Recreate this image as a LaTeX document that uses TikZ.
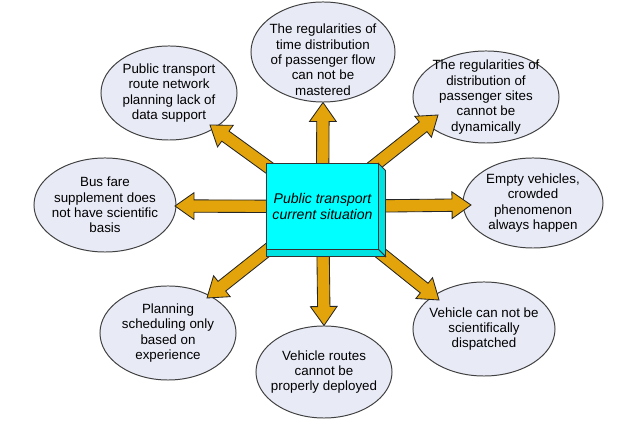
\documentclass[tikz,border=0pt]{standalone}
\usepackage{fontspec}
\setmainfont{Liberation Sans}
\usepackage{tikz}
\usetikzlibrary{shapes,positioning,calc,backgrounds}

\definecolor{bubblefill}{RGB}{232,234,246}
\definecolor{arrowgold}{RGB}{226,164,10}
\definecolor{hubcyan}{RGB}{0,255,255}
\definecolor{hubside}{RGB}{0,226,226}

% fat block arrow from #1 to #2
\newcommand{\bigarrow}[2]{%
  \coordinate (ba) at (#1);
  \coordinate (bb) at (#2);
  \coordinate (bc) at ($(bb)!13.5pt!(ba)$);
  \draw[fatarrow] ($(ba)!4.4pt!90:(bb)$) -- ($(bc)!4.4pt!-90:(ba)$)
    -- ($(bc)!9.5pt!-90:(ba)$) -- (bb) -- ($(bc)!9.5pt!90:(ba)$)
    -- ($(bc)!4.4pt!90:(ba)$) -- ($(ba)!4.4pt!-90:(bb)$) -- cycle;
}

\begin{document}
\begin{tikzpicture}[
    x=0.025cm, y=-0.025cm,
    bubble/.style={ellipse, draw=black!75, line width=0.7pt, fill=bubblefill, inner sep=-15pt, align=center, font=\fontsize{9.5}{10.9}\selectfont},
    hub/.style={rectangle, draw=black!80, line width=0.7pt, fill=hubcyan, minimum width=2.775cm, minimum height=2.125cm, align=center, font=\fontsize{10}{11.2}\selectfont\itshape},
    hubface/.style={draw=black!80, line width=0.6pt, fill=hubside},
    fatarrow/.style={draw=black!85, line width=0.6pt, fill=arrowgold, line join=miter}
]
\useasboundingbox (0,0) rectangle (640,425);

% Centre box
\node[hub] (box) at (322.5,206.5) {Public transport\\current situation};
\draw[hubface] (box.north east) -- ++(7,7) -- ($(box.south east)+(7,7)$) -- (box.south east) -- cycle;
\draw[hubface] (box.south west) -- (box.south east) -- ++(7,7) -- ($(box.south west)+(0,7)$) -- cycle;

\begin{scope}[on background layer]
% Problems
\node[bubble, minimum width=3.6cm, minimum height=2.5cm] (tp) at (323,52) {\rule{0pt}{18pt}The regularities of\\time distribution\\of passenger flow\\can not be\\mastered};
\node[bubble, minimum width=3.4cm, minimum height=2.35cm] (tl) at (169,93) {Public transport\\route network\\planning lack of\\data support};
\node[bubble, minimum width=3.65cm, minimum height=2.3cm] (tr) at (486,97) {The regularities of\\distribution of\\passenger sites\\cannot be\\dynamically};
\node[bubble, minimum width=3.5cm, minimum height=2.25cm] (rt) at (533,203) {Empty vehicles,\\crowded\\phenomenon\\always happen};
\node[bubble, minimum width=3.55cm, minimum height=2.35cm] (lf) at (105,205) {Bus fare\\supplement does\\not have scientific\\basis};
\node[bubble, minimum width=3.4cm, minimum height=2.35cm] (bl) at (168,333) {Planning\\scheduling only\\based on\\experience};
\node[bubble, minimum width=3.4cm, minimum height=2.3cm] (bt) at (324,372) {Vehicle routes\\cannot be\\properly deployed};
\node[bubble, minimum width=3.55cm, minimum height=2.35cm] (br) at (484,329) {Vehicle can not be\\scientifically\\dispatched};

% Arrows
\bigarrow{box}{tp.south}
\bigarrow{box}{$(tl)+(41,32)$}
\bigarrow{box}{$(tr)+(-48,18)$}
\bigarrow{box}{$(rt)+(-62,2)$}
\bigarrow{box}{$(lf)+(70,1)$}
\bigarrow{box}{$(bl)+(39,-35)$}
\bigarrow{box}{bt.north}
\bigarrow{box}{$(br)+(-45,-29)$}
\end{scope}

\end{tikzpicture}
\end{document}
